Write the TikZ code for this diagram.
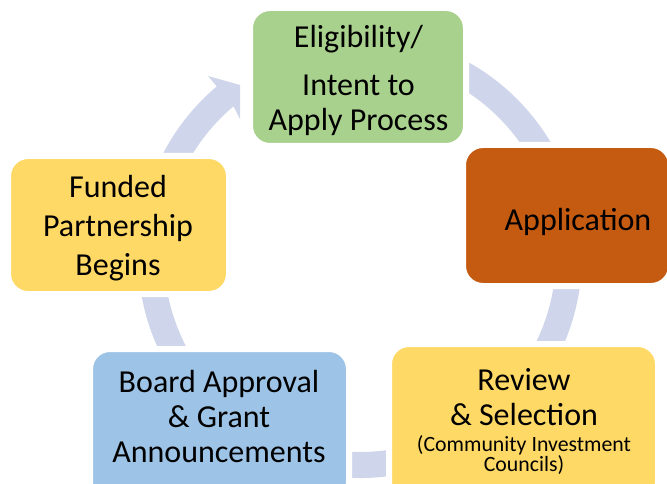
\documentclass[tikz,border=0pt]{standalone}
\usepackage{fontspec}
\setmainfont{Carlito}
\usetikzlibrary{calc}
\definecolor{ringc}{HTML}{CFD5EA}
\definecolor{greenc}{HTML}{A9D18E}
\definecolor{orangec}{HTML}{C55A11}
\definecolor{yellowc}{HTML}{FFD966}
\definecolor{bluec}{HTML}{9DC3E6}
\newcommand{\tightlines}{\lineskiplimit=-50pt\relax}
\begin{document}
\begin{tikzpicture}[x=1pt,y=-1pt,
  stepbox/.style={rectangle, rounded corners=20pt, draw=white, line width=6pt, inner sep=0pt},
  bigtext/.style={font=\fontsize{32}{35}\selectfont, align=center, inner sep=0pt, text=black},
  smalltext/.style={font=\fontsize{21.8}{20}\selectfont\tightlines, align=center, inner sep=0pt, text=black},
  ringfill/.style={fill=ringc}]
\useasboundingbox (0,0) rectangle (667,484);
\clip (0,0) rectangle (667,484);
\coordinate (C) at (360,256);
% ring arrow
\fill[ringfill] ($(C)+(-75:222)$) arc[start angle=-75, end angle=229.8, radius=222]
  -- (208,76) -- (240,85) -- (240,119)
  -- ($(C)+(229.8:196)$) arc[start angle=229.8, end angle=-75, radius=196] -- cycle;
% boxes
\node[stepbox, fill=greenc, minimum width=216pt, minimum height=138pt] (elig) at (358,77) {};
\node[stepbox, fill=orangec, minimum width=208pt, minimum height=141pt] (app) at (567,215.5) {};
\node[stepbox, fill=yellowc, minimum width=269pt, minimum height=159pt] (rev) at (523.5,423.5) {};
\node[stepbox, fill=bluec, minimum width=259pt, minimum height=154pt] (board) at (219.5,426) {};
\node[stepbox, fill=yellowc, minimum width=221pt, minimum height=138pt] (fund) at (118.5,225) {};
% texts
\node[bigtext] (eligT) at (358.5,80) {Eligibility/\\[13pt]Intent to\\Apply Process};
\node[bigtext, anchor=base] (appT) at (578,230) {Application};
\node[bigtext, font=\fontsize{32}{39}\selectfont] (fundT) at (118,228) {Funded\\Partnership\\Begins};
\node[bigtext] (boardT) at (219,417) {Board Approval\\\& Grant\\Announcements};
\node[bigtext] (revT) at (524,397.5) {Review\\\& Selection};
\node[smalltext] (revS) at (524,455) {(Community Investment\\Councils)};
\end{tikzpicture}
\end{document}
